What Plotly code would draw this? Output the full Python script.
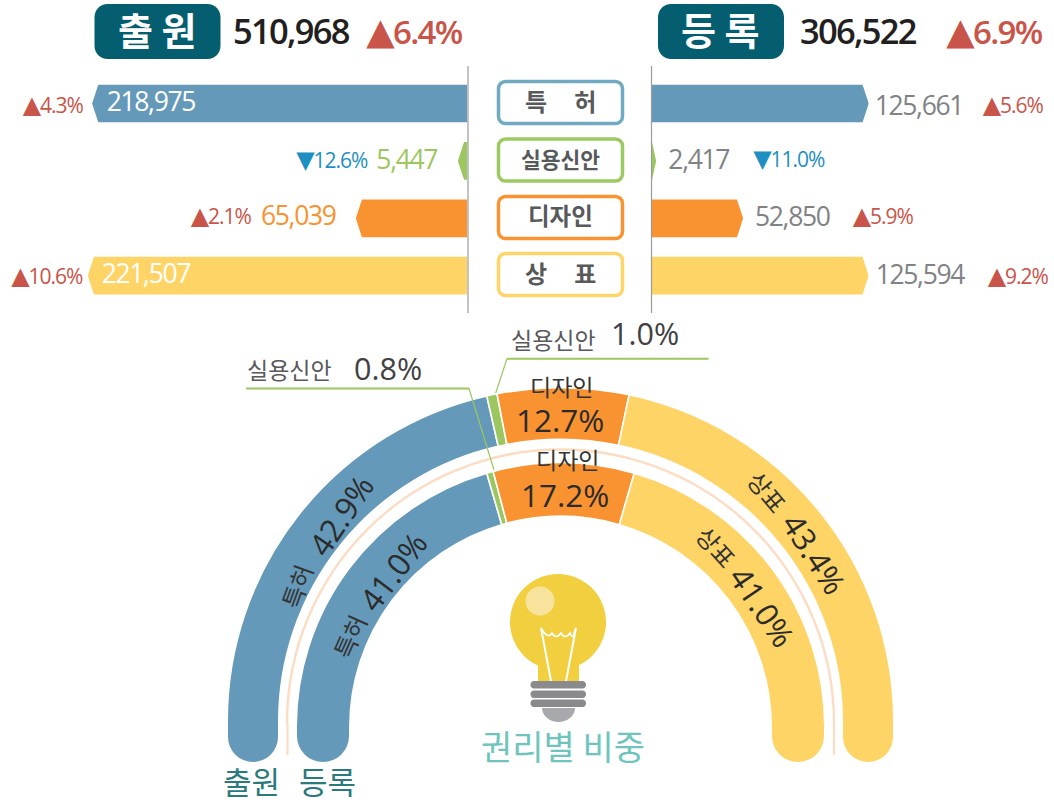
import plotly.graph_objects as go

# ---------- data ----------
categories = ["특허", "실용신안", "디자인", "상표"]
pill_labels = ["특\u00a0\u00a0\u00a0\u00a0\u00a0허", "실용신안", "디자인", "상\u00a0\u00a0\u00a0\u00a0\u00a0표"]
filed_values = [218975, 5447, 65039, 221507]
reg_values = [125661, 2417, 52850, 125594]
filed_deltas = ["▲4.3%", "▼12.6%", "▲2.1%", "▲10.6%"]
reg_deltas = ["▲5.6%", "▼11.0%", "▲5.9%", "▲9.2%"]
filed_total, filed_total_delta = 510968, "▲6.4%"
reg_total, reg_total_delta = 306522, "▲6.9%"
filed_share = [42.9, 1.0, 12.7, 43.4]
reg_share = [41.0, 0.8, 17.2, 41.0]

# ---------- style ----------
W, H = 1054, 803
BLUE, GREEN, ORANGE, YELLOW = "#6499B9", "#9CC760", "#F99331", "#FFD466"
COLORS = [BLUE, GREEN, ORANGE, YELLOW]
PILL = ["#6FA9C2", "#9DC962", "#F99331", "#FFD56A"]
RED, DOWN = "#C9544A", "#1E8FC3"
TEAL = "#045E70"
SANS = "Open Sans, DejaVu Sans, sans-serif"
KR = "Noto Sans CJK KR, sans-serif"
GREY = "#808285"


def px(x):
    return x / W


def py(y):
    return 1 - y / H


shapes, annos = [], []


def text(x, y, s, size, color, family=SANS, angle=0, anchor="center", weight=None):
    f = dict(size=size, color=color, family=family)
    if weight:
        f["weight"] = weight
    annos.append(dict(x=px(x), y=py(y), xref="paper", yref="paper", text=s, showarrow=False,
                      font=f, textangle=angle, xanchor=anchor, yanchor="middle",
                      borderpad=0, borderwidth=0))


def delta(x, y, s, size, tri, weight=None):
    color = DOWN if s[0] == "▼" else RED
    text(x, y, f'<span style="font-size:{tri}px">{s[0]}</span>{s[1:]}', size, color, weight=weight)


def rrect_path(x0, y0, x1, y1, r):
    k = r * 0.45
    pts = [("M", x0 + r, y0), ("L", x1 - r, y0), ("C", x1 - k, y0, x1, y0 + k, x1, y0 + r),
           ("L", x1, y1 - r), ("C", x1, y1 - k, x1 - k, y1, x1 - r, y1),
           ("L", x0 + r, y1), ("C", x0 + k, y1, x0, y1 - k, x0, y1 - r),
           ("L", x0, y0 + r), ("C", x0, y0 + k, x0 + k, y0, x0 + r, y0)]
    out = ""
    for p in pts:
        vals = p[1:]
        coords = " ".join(f"{px(vals[i]):.5f},{py(vals[i + 1]):.5f}" for i in range(0, len(vals), 2))
        out += f"{p[0]} {coords} "
    return out + "Z"


def rrect(x0, y0, x1, y1, r, fill, line=None, lw=0):
    shapes.append(dict(type="path", xref="paper", yref="paper", path=rrect_path(x0, y0, x1, y1, r),
                       fillcolor=fill, line=dict(color=line or fill, width=lw)))


def rect(x0, y0, x1, y1, fill):
    shapes.append(dict(type="rect", xref="paper", yref="paper", x0=px(x0), x1=px(x1), y0=py(y0), y1=py(y1),
                       fillcolor=fill, line=dict(width=0)))


def circle(cx, cy, rx, fill, ry=None):
    ry = ry or rx
    shapes.append(dict(type="circle", xref="paper", yref="paper", x0=px(cx - rx), x1=px(cx + rx),
                       y0=py(cy - ry), y1=py(cy + ry), fillcolor=fill, line=dict(width=0)))


def seg(x0, y0, x1, y1, color, w):
    shapes.append(dict(type="line", xref="paper", yref="paper", x0=px(x0), x1=px(x1), y0=py(y0), y1=py(y1),
                       line=dict(color=color, width=w)))


fig = go.Figure()

# ---------- top diverging bars ----------
SCALE_L, SCALE_R = 1.713, 1.725
EDGE_L, EDGE_R = 467.2, 652
ROW_TOP, ROW_BOT = 74.8, 304.4
BAR_W = 0.656
TIP = 6.2
rows = list(range(len(categories)))
max_l = EDGE_L / SCALE_L * 1000
max_r = (W - EDGE_R) / SCALE_R * 1000

fig.add_trace(go.Bar(x=filed_values, y=rows, orientation="h", width=BAR_W, marker=dict(color=COLORS, line=dict(width=0)),
                     xaxis="x", yaxis="y", hoverinfo="skip", showlegend=False))
fig.add_trace(go.Bar(x=reg_values, y=rows, orientation="h", width=BAR_W, marker=dict(color=COLORS, line=dict(width=0)),
                     xaxis="x2", yaxis="y", hoverinfo="skip", showlegend=False))


def chamfers(values, scale, xaxis):
    xs, ys = [], []
    t = TIP / scale * 1000
    e = 1.5 / scale * 1000
    h = BAR_W / 2
    d = 0.02
    for v, r in zip(values, rows):
        tt = min(t, v)
        for sgn in (-1, 1):
            xs += [v - tt, v + e, v + e, v, v - tt, None]
            ys += [r + sgn * (h + d), r + sgn * (h + d), r, r, r + sgn * h, None]
    fig.add_trace(go.Scatter(x=xs, y=ys, mode="lines", fill="toself", fillcolor="white", line=dict(width=0),
                             xaxis=xaxis, yaxis="y", hoverinfo="skip", showlegend=False))


chamfers(filed_values, SCALE_L, "x")
chamfers(reg_values, SCALE_R, "x2")

# centre guide lines
seg(468, 66, 468, 313, "#9A9A9A", 1.2)
seg(651.5, 66, 651.5, 313, "#9A9A9A", 1.2)

# header badges
rrect(94.5, 4, 220.5, 59, 13, TEAL)
rrect(658, 4, 784, 59, 13, TEAL)
text(157, 28.5, "출 원", 38, "white", KR, weight=700)
text(720, 28.5, "등 록", 38, "white", KR, weight=700)
text(291, 30, f"{filed_total:,}", 34.5, "#231F20", weight=600)
text(857.5, 30, f"{reg_total:,}", 34.5, "#231F20", weight=600)
delta(413.5, 29.5, filed_total_delta, 33, 37, 600)
delta(994, 29.5, reg_total_delta, 33, 37, 600)

# pills
pill_y = [(80, 125), (137.5, 182.5), (195, 240), (252, 297)]
for (y0, y1), c, lab, size in zip(pill_y, PILL, pill_labels, [24, 21.5, 23.5, 24]):
    rrect(498.5, y0 + 1.5, 622.5, y1 - 1.5, 7, "white", c, 3.5)
    text(560.5, (y0 + y1) / 2 - 2, lab, size, "#58595B", KR, weight=700)

# value labels
filed_lab = [(151, 101), (406.5, 159), (298.5, 215), (146, 273)]
filed_col = ["white", GREEN, ORANGE, "white"]
reg_lab = [(919, 105), (698, 159), (792, 216), (920, 274)]
filed_delta_pos = [(52, 104), (331, 158), (220, 215), (46, 274)]
reg_delta_pos = [(1012.5, 104), (788, 157), (882, 215), (1017.5, 274)]
for i in rows:
    text(*filed_lab[i], f"{filed_values[i]:,}", 26.5, filed_col[i])
    text(*reg_lab[i], f"{reg_values[i]:,}", 26.5, GREY)
    delta(*filed_delta_pos[i], filed_deltas[i], 21, 24)
    delta(*reg_delta_pos[i], reg_deltas[i], 21, 24)

# ---------- half-ring charts ----------
CX = 560.5
PAD_R = 340.0


def ring(shares, base, thick, sub):
    cum = 0
    for s, c, name in zip(shares, COLORS, categories):
        fig.add_trace(go.Barpolar(r=[thick], base=[base], theta=[(cum + s / 2) * 1.8], width=[s * 1.8],
                                  marker=dict(color=c, line=dict(color="white", width=1.6)),
                                  subplot=sub, hoverinfo="skip", showlegend=False, name=name))
        cum += s


ring(filed_share, 281.7, 51.6, "polar")
ring(reg_share, 210.7, 53.6, "polar2")
fig.add_trace(go.Barpolar(r=[2.4], base=[272.3], theta=[90], width=[180], marker=dict(color="#FCDCC2", line=dict(width=0)),
                          subplot="polar3", hoverinfo="skip", showlegend=False))


def polar_layout(cy):
    return dict(domain=dict(x=[px(CX - PAD_R), px(CX + PAD_R)], y=[py(cy), py(cy - PAD_R)]),
                sector=[0, 180], bgcolor="rgba(0,0,0,0)",
                radialaxis=dict(visible=False, range=[0, PAD_R]),
                angularaxis=dict(visible=False, direction="clockwise", rotation=180))


# rounded ring feet
for x0, x1, c in [(228, 278, BLUE), (843, 893, YELLOW)]:
    rect(x0, 719, x1, 737, c)
    circle((x0 + x1) / 2, 737, (x1 - x0) / 2, c)
for x0, x1, c in [(297, 349, BLUE), (772, 824, YELLOW)]:
    rect(x0, 725, x1, 736, c)
    circle((x0 + x1) / 2, 736, (x1 - x0) / 2, c)
seg(287.5, 723, 287.5, 755, "#FCDCC2", 2.2)
seg(834, 723, 834, 755, "#FCDCC2", 2.2)

# ring labels
DARK = "#2B2B2B"
text(296, 586, "특허", 24, "#333", KR, angle=-70)
text(340, 515, f"{filed_share[0]}%", 31.5, DARK, angle=-56)
text(349, 636, "특허", 24, "#333", KR, angle=-66)
text(392, 571, f"{reg_share[0]:.1f}%", 31.5, DARK, angle=-53)
text(768, 491, "상표", 24, "#333", KR, angle=50)
text(815, 553, f"{filed_share[3]}%", 31.5, DARK, angle=57)
text(717, 546, "상표", 24, "#333", KR, angle=48)
text(763, 606, f"{reg_share[3]:.1f}%", 31.5, DARK, angle=56)
text(561, 386.5, "디자인", 23, "#333", KR)
text(560, 419, f"{filed_share[2]}%", 31.5, DARK)
text(567, 459.5, "디자인", 23, "#333", KR)
text(565, 494, f"{reg_share[2]}%", 31.5, DARK)

# leaders
seg(246, 388.5, 469, 388.5, GREEN, 2)
seg(469, 388.5, 494, 470, GREEN, 1.2)
seg(507, 358.7, 708.5, 358.7, GREEN, 2)
seg(507, 358.7, 495.7, 393, GREEN, 1.2)
text(289, 368.5, categories[1], 23, "#58595B", KR)
text(388, 368, f"{reg_share[1]}%", 30.5, "#414042")
text(553, 338.5, categories[1], 23, "#58595B", KR)
text(645, 333, f"{filed_share[1]}%", 30.5, "#414042")

# bottom labels
text(251, 780.5, "출원", 31, "#2A7A7C", KR)
text(327, 780.5, "등록", 31, "#2A7A7C", KR)
text(563, 745, "권리별 비중", 34, "#6FC5BD", KR)

# ---------- light bulb ----------
BULB = "#F2CF3E"
circle(558, 622, 48, BULB)
rect(538, 655, 579, 682, BULB)
circle(540, 601, 14.5, "#F7E39B")
seg(541, 628, 551, 681, "white", 2)
seg(576, 628, 566, 681, "white", 2)
wave = "M " + " ".join(f"{px(x):.5f},{py(y):.5f}" for x, y in [(541, 628), (544, 634)])
wave += " " + " ".join(
    f"Q {px(a):.5f},{py(640):.5f} {px(b):.5f},{py(633):.5f}"
    for a, b in [(548, 552), (556, 561), (565, 570), (573, 574)]
) + f" L {px(576):.5f},{py(628):.5f}"
shapes.append(dict(type="path", xref="paper", yref="paper", path=wave, line=dict(color="white", width=1.6)))
for y0, y1 in [(681, 688.5), (690.5, 698), (699.5, 707)]:
    rrect(530.5, y0, 586, y1, 3.5, "#8A8A8C")
base_path = (f"M {px(542):.5f},{py(708):.5f} L {px(575):.5f},{py(708):.5f} "
             f"C {px(575):.5f},{py(716):.5f} {px(567):.5f},{py(722):.5f} {px(558.5):.5f},{py(722):.5f} "
             f"C {px(550):.5f},{py(722):.5f} {px(542):.5f},{py(716):.5f} {px(542):.5f},{py(708):.5f} Z")
shapes.append(dict(type="path", xref="paper", yref="paper", path=base_path, fillcolor="#A7A9AC", line=dict(width=0)))

fig.update_layout(
    width=W, height=H, margin=dict(l=0, r=0, t=0, b=0), paper_bgcolor="white", plot_bgcolor="white",
    showlegend=False, barmode="overlay", shapes=shapes, annotations=annos,
    xaxis=dict(domain=[0, px(EDGE_L)], range=[max_l, 0], visible=False, fixedrange=True),
    xaxis2=dict(domain=[px(EDGE_R), 1], range=[0, max_r], visible=False, fixedrange=True, anchor="y"),
    yaxis=dict(domain=[py(ROW_BOT), py(ROW_TOP)], range=[3.5, -0.5], visible=False, fixedrange=True),
    polar=polar_layout(721), polar2=polar_layout(727), polar3=polar_layout(723),
)
tighten = ("document.body.style.margin='0';"
           "document.querySelectorAll('.annotation-text').forEach(function(t){"
           "var s=t.textContent;if(/^[\\u25b2\\u25bc]/.test(s)||/,/.test(s)){t.style.letterSpacing='-0.05em';}});")
fig.write_html("out.html", post_script=tighten, config=dict(displayModeBar=False))
